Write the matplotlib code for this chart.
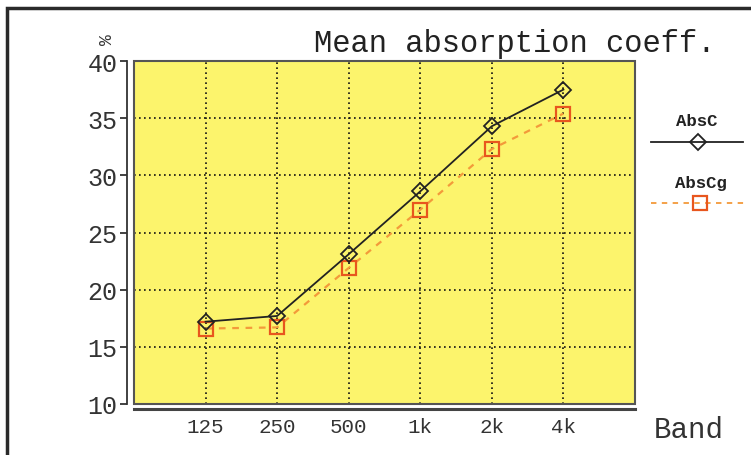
import matplotlib
matplotlib.use("Agg")
import matplotlib.pyplot as plt
from matplotlib.patches import Rectangle
from matplotlib.lines import Line2D

bands = ["125", "250", "500", "1k", "2k", "4k"]
abs_c = [17.2, 17.7, 23.1, 28.6, 34.3, 37.5]
abs_cg = [16.6, 16.7, 21.9, 27.0, 32.3, 35.4]
yticks = [10, 15, 20, 25, 30, 35, 40]
series_names = ["AbsC", "AbsCg"]

plt.rcParams["font.family"] = "monospace"
plt.rcParams["font.monospace"] = ["Liberation Mono", "DejaVu Sans Mono"]

W, H = 751, 456
DPI = 100
YELLOW = "#FCF46C"
ORANGE = "#E8561E"
DASH = "#F39A3A"
TXT = "#333333"

fig = plt.figure(figsize=(W / DPI, H / DPI), dpi=DPI)
fig.patch.set_facecolor("white")

def fx(px):
    return px / W

def fy(py):
    return 1 - py / H

left, right, top, bottom = 134, 635, 62, 405
ax = fig.add_axes([fx(left), fy(bottom), fx(right - left), (bottom - top) / H])
ax.set_facecolor(YELLOW)

x = list(range(len(bands)))
ax.plot(x, abs_c, color="#222222", lw=1.3, marker="D", ms=8, mfc="none",
        mec="#222222", mew=1.3, zorder=4)
ax.plot(x, abs_cg, color=DASH, lw=1.6, ls=(0, (3, 3)), marker="s", ms=10.5,
        mfc="none", mec=ORANGE, mew=1.6, zorder=3)

ax.set_xlim(-1, 6)
ax.set_ylim(10, 40)
ax.set_xticks(x)
ax.set_xticklabels(bands)
ax.set_yticks(yticks)
ax.set_yticklabels([str(v) for v in yticks])

# grid
for xi in x:
    ax.axvline(xi, color="#111111", lw=1.2, ls=(0, (1, 2)), zorder=1)
for yv in yticks[1:-1]:
    ax.axhline(yv, color="#111111", lw=1.2, ls=(0, (1, 2)), zorder=1)

for s in ["top", "right"]:
    ax.spines[s].set_visible(False)
ax.spines["left"].set_position(("outward", 7 * 72 / DPI))
ax.spines["left"].set_linewidth(1.3)
ax.spines["left"].set_color(TXT)
ax.spines["bottom"].set_position(("outward", 5 * 72 / DPI))
ax.spines["bottom"].set_linewidth(2.2)
ax.spines["bottom"].set_color("#444444")
ax.tick_params(axis="y", direction="out", length=5, width=1.3,
               color=TXT, pad=2, labelsize=18, labelcolor=TXT)
ax.tick_params(axis="x", length=0, pad=6, labelsize=15, labelcolor=TXT)

# frame of yellow area
ax.add_patch(Rectangle((0, 0), 1, 1, transform=ax.transAxes, fill=False,
                       ec="#555555", lw=1.5, zorder=5, clip_on=False))

# outer frame
fig.add_artist(Rectangle((fx(7), -0.2), 2, fy(9) + 0.2, transform=fig.transFigure,
                         fill=False, ec="#2a2a2a", lw=2.5))

# titles
fig.text(fx(314), fy(44), "Mean absorption coeff.", fontsize=22,
         color="#222222", va="center", ha="left")
fig.text(fx(654), fy(430), "Band", fontsize=21, color=TXT,
         va="center", ha="left")
fig.text(fx(108), fy(40), "%", fontsize=13, color=TXT,
         va="center", ha="center", rotation=90)

# legend
fig.text(fx(697), fy(121), series_names[0], fontsize=12.5,
         fontweight="bold", color="#222222", ha="center", va="center")
fig.add_artist(Line2D([fx(651), fx(743)], [fy(143), fy(143)], color="#222222",
                      lw=1.3, transform=fig.transFigure))
fig.add_artist(Line2D([fx(698)], [fy(143)], marker="D", ms=8, mfc="none",
                      mec="#222222", mew=1.3, transform=fig.transFigure))
fig.text(fx(701), fy(184), series_names[1], fontsize=12.5,
         fontweight="bold", color="#222222", ha="center", va="center")
fig.add_artist(Line2D([fx(651), fx(745)], [fy(204), fy(204)], color=DASH,
                      lw=1.3, ls=(0, (3, 3)), transform=fig.transFigure))
fig.add_artist(Line2D([fx(700)], [fy(204)], marker="s", ms=10.5, mfc="none",
                      mec=ORANGE, mew=1.6, transform=fig.transFigure))

fig.savefig("out.png", dpi=DPI, facecolor="white")
